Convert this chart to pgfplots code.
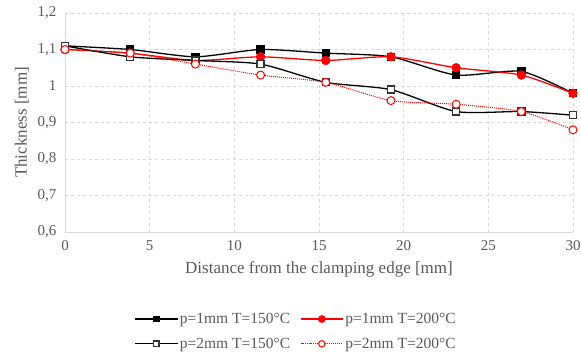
\documentclass[border=0pt]{standalone}
\usepackage{pgfplots}
\pgfplotsset{compat=1.18}
\usepackage{fontspec}
\setmainfont{Liberation Serif}
\definecolor{tickgray}{RGB}{89,89,89}
\definecolor{gridgray}{RGB}{217,217,217}
\begin{document}
\begin{tikzpicture}
\useasboundingbox (0pt,0pt) rectangle (581pt,358pt);
\begin{axis}[
  at={(65pt,126pt)}, anchor=south west,
  scale only axis, width=508pt, height=219pt,
  xmin=0, xmax=30, ymin=0.6, ymax=1.2,
  xtick={0,5,...,30}, ytick={0.6,0.7,...,1.2},
  grid=major,
  grid style={gridgray, dashed, line width=0.6pt},
  axis line style={gridgray, line width=0.8pt},
  axis x line*=bottom, axis y line*=left,
  tick style={draw=none},
  /pgf/number format/assume math mode=true,
  /pgf/number format/use comma,
  /pgf/number format/fixed,
  ticklabel style={font=\fontsize{15}{17}\selectfont, text=tickgray},
  yticklabel style={xshift=-5pt},
  xticklabel style={yshift=-5pt},
  xlabel={Distance from the clamping edge [mm]},
  ylabel={Thickness [mm]},
  label style={font=\fontsize{17}{19}\selectfont, text=tickgray},
  xlabel style={yshift=-4pt},
  ylabel style={yshift=2pt},
  legend columns=2,
  legend style={at={(0.455,-0.454)}, anchor=center, draw=none, fill=none,
    font=\fontsize{15.5}{17}\selectfont, text=tickgray,
    /tikz/every even column/.append style={column sep=8pt},
    row sep=9pt},
  legend image code/.code={
    \draw[#1, every mark/.append style={scale=0.8}, mark repeat=2, mark phase=2] plot coordinates {(0pt,0pt) (21pt,0pt) (42pt,0pt)};
  },
  clip=false,
]
\addplot[black, line width=1.3pt, smooth, tension=0.4, mark=square*, mark size=3.5pt, mark options={solid, fill=black}]
coordinates {(0,1.11) (3.85,1.10) (7.7,1.08) (11.55,1.10) (15.4,1.09) (19.25,1.08) (23.1,1.03) (26.95,1.04) (30,0.98)};
\addlegendentry{p=1mm T=150°C}
\addplot[red, line width=1.3pt, smooth, tension=0.4, mark=*, mark size=4pt, mark options={solid, fill=red}]
coordinates {(0,1.10) (3.85,1.09) (7.7,1.07) (11.55,1.08) (15.4,1.07) (19.25,1.08) (23.1,1.05) (26.95,1.03) (30,0.98)};
\addlegendentry{p=1mm T=200°C}
\addplot[black, line width=1.3pt, smooth, tension=0.4, mark=square*, mark size=3.5pt, mark options={solid, fill=white, draw=black!80}]
coordinates {(0,1.11) (3.85,1.08) (7.7,1.07) (11.55,1.06) (15.4,1.01) (19.25,0.99) (23.1,0.93) (26.95,0.93) (30,0.92)};
\addlegendentry{p=2mm T=150°C}
\addplot[red, line width=1pt, densely dotted, smooth, tension=0.4, mark=*, mark size=4pt, mark options={solid, fill=white, draw=red}]
coordinates {(0,1.10) (3.85,1.09) (7.7,1.06) (11.55,1.03) (15.4,1.01) (19.25,0.96) (23.1,0.95) (26.95,0.93) (30,0.88)};
\addlegendentry{p=2mm T=200°C}
\end{axis}
\end{tikzpicture}
\end{document}
